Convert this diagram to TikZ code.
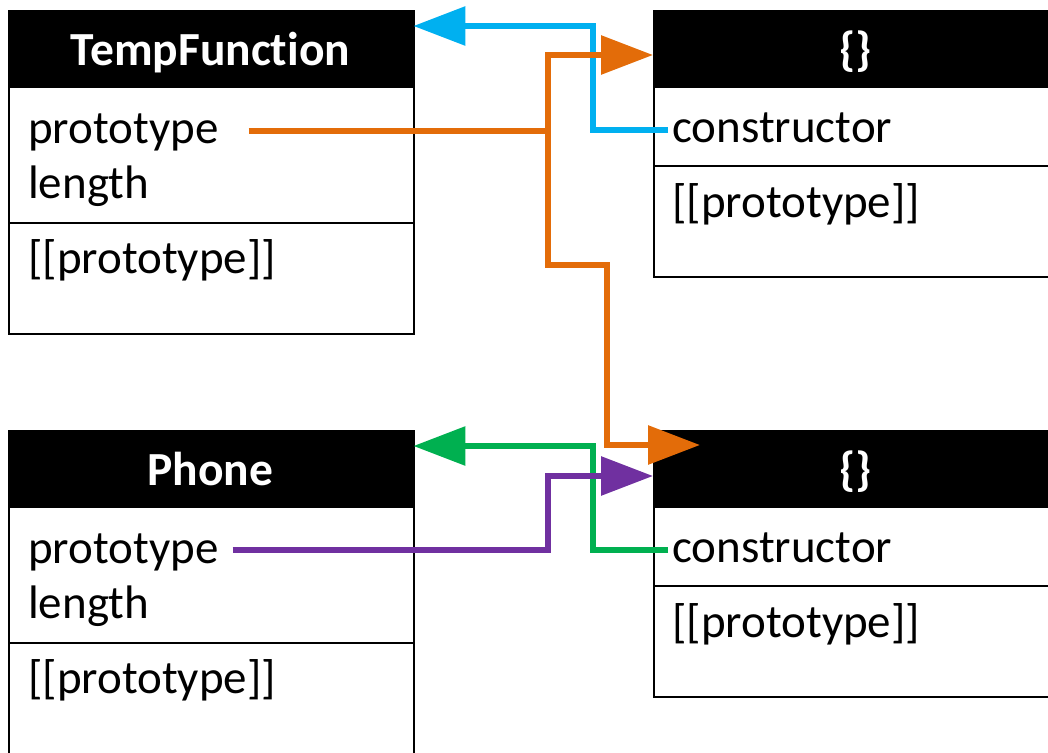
\documentclass[tikz,border=0pt]{standalone}
\usepackage{fontspec}
\setmainfont{Carlito}[Ligatures=NoCommon]
\usetikzlibrary{arrows.meta,calc}
\definecolor{linkblue}{HTML}{00B0F0}
\definecolor{linkorange}{HTML}{E36C09}
\definecolor{linkgreen}{HTML}{00B050}
\definecolor{linkpurple}{HTML}{7030A0}
\begin{document}
\begin{tikzpicture}[x=1pt,y=-1pt,
  box/.style={draw=black, line width=2.4pt, anchor=north west,
    minimum width=405pt, inner sep=0pt},
  head/.style={fill=black, anchor=north west, minimum width=405pt,
    minimum height=78pt, inner sep=0pt},
  title/.style={text=white, font=\fontsize{47.5}{57}\selectfont\bfseries,
    anchor=base, inner sep=0pt},
  field/.style={font=\fontsize{47}{56}\selectfont, anchor=base west,
    inner sep=0pt},
  divider/.style={line width=2pt},
  link/.style={line width=6pt, -{Triangle[length=52pt,width=38pt]}},
]
\useasboundingbox (0,0) rectangle (1048,752);
\clip (0,0) rectangle (1048,752);

% --- TempFunction ---
\node[box, minimum height=323pt] (tf) at (8,10) {};
\node[head] (tfh) at (8,10) {};
\node[title] (tft) at (210.5,65) {TempFunction};
\node[field] (tfproto) at (28,143) {prototype};
\node[field] (tflen) at (28,198) {length};
\draw[divider] (8,223) -- (413,223);
\node[field] (tfpp) at (28,273) {[[prototype]]};

% --- TempFunction.prototype object ---
\node[box, minimum height=266pt] (ra) at (653,10) {};
\node[head] (rah) at (653,10) {};
\node[title] (rat) at (855.5,65) {\{\}};
\node[field] (ctorA) at (672,142) {constructor};
\draw[divider] (653,166) -- (1058,166);
\node[field] (rapp) at (672,217) {[[prototype]]};

% --- Phone ---
\node[box, minimum height=323pt] (ph) at (8,430) {};
\node[head] (phh) at (8,430) {};
\node[title] (pht) at (210.5,485) {Phone};
\node[field] (phproto) at (28,563) {prototype};
\node[field] (phlen) at (28,618) {length};
\draw[divider] (8,643) -- (413,643);
\node[field] (phpp) at (28,693) {[[prototype]]};

% --- Phone.prototype object ---
\node[box, minimum height=266pt] (rb) at (653,430) {};
\node[head] (rbh) at (653,430) {};
\node[title] (rbt) at (855.5,485) {\{\}};
\node[field] (ctorB) at (672,562) {constructor};
\draw[divider] (653,586) -- (1058,586);
\node[field] (rbpp) at (672,637) {[[prototype]]};

% --- constructor links back to the functions ---
\draw[link, linkblue] ($(ctorA.base west)+(-4,-12)$) -| (593,26) -- (tfh.east |- 0,26);
\draw[link, linkgreen] ($(ctorB.base west)+(-4,-12)$) -| (593,446) -- (phh.east |- 0,446);

% --- prototype links ---
\coordinate (branch) at (548,131);
\draw[link, linkorange] (branch) |- (607,265) |- ($(rbh.west |- 0,445)+(47,0)$);
\draw[link, linkorange] ($(tfproto.base east)+(30,-12)$) -| (548,55) -- (rah.west |- 0,55);
\draw[link, linkpurple] ($(phproto.base east)+(14,-13)$) -| (548,476) -- (rbh.west |- 0,476);
\end{tikzpicture}
\end{document}
